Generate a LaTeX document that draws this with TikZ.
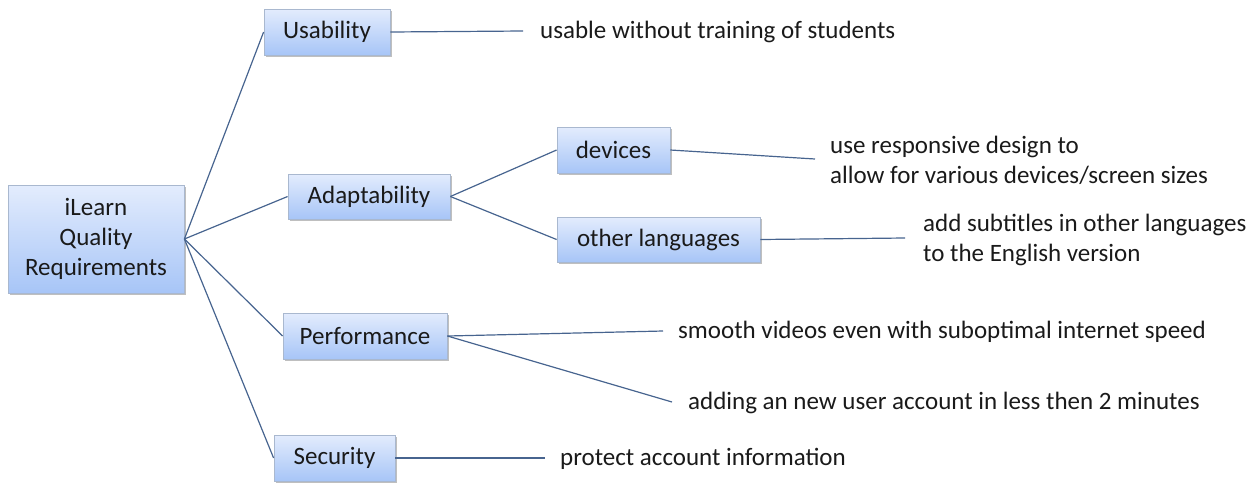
\documentclass[tikz,border=0pt]{standalone}
\usepackage{fontspec}
\setmainfont{Carlito}
\usetikzlibrary{shadows}
\definecolor{boxtop}{HTML}{E3ECFD}
\definecolor{boxbot}{HTML}{A7C5F7}
\definecolor{boxline}{HTML}{A9B8CF}
\definecolor{linkc}{HTML}{47648F}
\definecolor{txt}{HTML}{1A1A1A}
\tikzset{
  qbox/.style={draw=boxline, line width=0.8pt, top color=boxtop, bottom color=boxbot,
    inner sep=0pt, align=center, text=txt, font=\fontsize{25}{30}\selectfont,
    drop shadow={shadow xshift=2pt, shadow yshift=-2pt, fill=black, opacity=0.25}},
  desc/.style={anchor=west, inner sep=0pt, align=left, text=txt, font=\fontsize{25}{30}\selectfont},
  link/.style={draw=linkc, line width=1.2pt},
}
\begin{document}
\begin{tikzpicture}[x=1pt,y=-1pt]
\useasboundingbox (0,0) rectangle (1260,483);
% boxes
\node[qbox, minimum width=176pt, minimum height=108pt] (root) at (96,239) {iLearn\\Quality\\Requirements};
\node[qbox, minimum width=126pt, minimum height=46pt] (usab) at (327,32) {Usability};
\node[qbox, minimum width=162pt, minimum height=45pt] (adapt) at (369,196.5) {Adaptability};
\node[qbox, minimum width=113pt, minimum height=46pt] (dev) at (613.5,150) {devices};
\node[qbox, minimum width=203pt, minimum height=45pt] (lang) at (658.5,239.5) {other languages};
\node[qbox, minimum width=164pt, minimum height=46pt] (perf) at (365,336) {Performance};
\node[qbox, minimum width=121pt, minimum height=46pt] (sec) at (334.5,458) {Security};
% descriptions
\node[desc] (dusab) at (540,32) {usable without training of students};
\node[desc] (ddev) at (830,160) {use responsive design to\\allow for various devices/screen sizes};
\node[desc] (dlang) at (923,240) {add subtitles in other languages\\to the English version};
\node[desc] (dperf1) at (678,332) {smooth videos even with suboptimal internet speed};
\node[desc] (dperf2) at (688,403) {adding an new user account in less then 2 minutes};
\node[desc] (dsec) at (560,459) {protect account information};
% free ends of connectors
\coordinate (eusab) at (523,31);
\coordinate (edev) at (815,159);
\coordinate (elang) at (905,238);
\coordinate (eperf1) at (663,331);
\coordinate (eperf2) at (672,402);
\coordinate (esec) at (545,458);
% connectors
\draw[link] (root.east) -- (usab.west);
\draw[link] (root.east) -- (adapt.west);
\draw[link] (root.east) -- (perf.west);
\draw[link] (root.east) -- (sec.west);
\draw[link] (adapt.east) -- (dev.west);
\draw[link] (adapt.east) -- (lang.west);
\draw[link] (usab.east) -- (eusab);
\draw[link] (dev.east) -- (edev);
\draw[link] (lang.east) -- (elang);
\draw[link] (perf.east) -- (eperf1);
\draw[link] (perf.east) -- (eperf2);
\draw[link] (sec.east) -- (esec);
\end{tikzpicture}
\end{document}
